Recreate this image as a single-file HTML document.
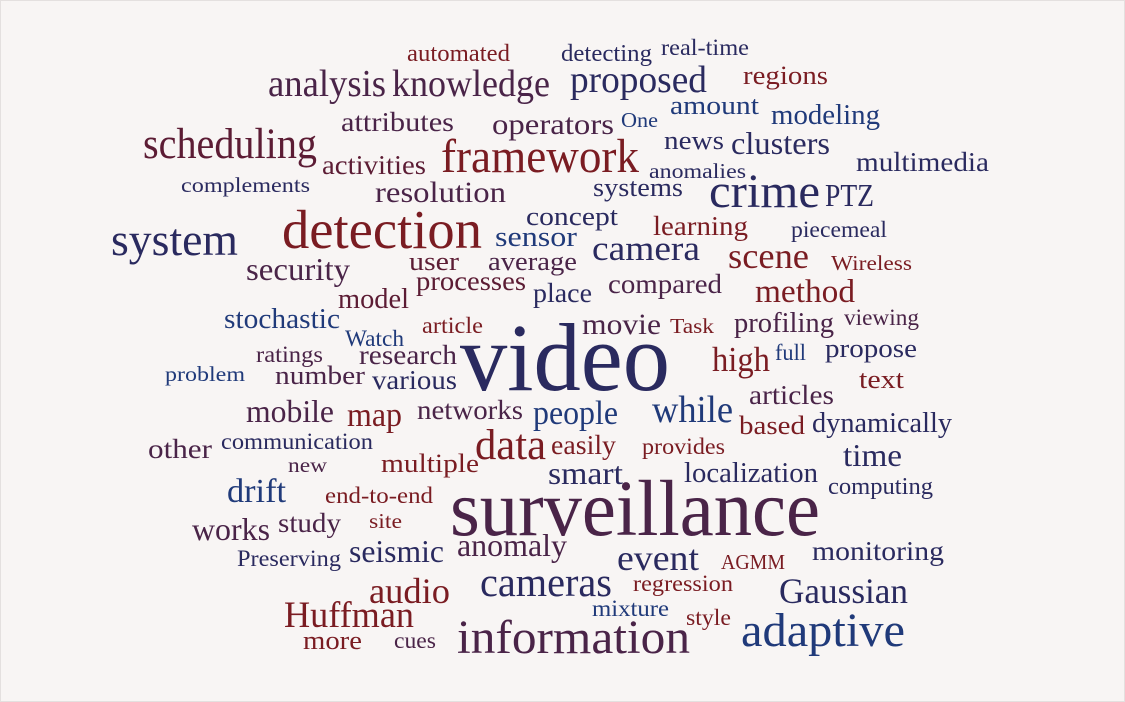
<!DOCTYPE html>
<html><head><meta charset="utf-8"><title>Word cloud</title>
<style>
html,body{margin:0;padding:0;background:#f8f5f4;}
svg{display:block;}
text{font-family:"Liberation Serif","DejaVu Serif",serif;}
</style></head>
<body>
<svg id="cloud" width="1125" height="702" viewBox="0 0 1125 702">
<rect x="0.5" y="0.5" width="1124" height="701" fill="#f8f5f4" stroke="#e4e0df"/>
<g id="words"></g>
</svg>
<script>
const words = ["automated","detecting","real-time","analysis","knowledge","proposed","regions","amount","modeling","attributes","operators","One","news","clusters","scheduling","framework","activities","anomalies","multimedia","complements","resolution","systems","crime","PTZ","concept","learning","piecemeal","system","detection","sensor","camera","scene","Wireless","security","user","average","processes","compared","method","model","place","stochastic","article","movie","Task","profiling","viewing","Watch","video","ratings","research","high","full","propose","problem","number","various","articles","text","mobile","map","networks","people","while","based","dynamically","data","easily","other","communication","provides","time","new","multiple","smart","localization","drift","end-to-end","computing","surveillance","works","study","site","Preserving","seismic","anomaly","event","AGMM","monitoring","audio","cameras","regression","Gaussian","Huffman","mixture","style","information","adaptive","more","cues"];
const weights = [20,20,19,32,32,32,22,22,24,23,25,18,22,26,36,40,23,18,23,18,25,22,40,26,22,23,19,38,46,24,29,30,18,26,22,22,23,23,27,24,23,24,19,25,18,24,19,19,80,19,23,29,19,22,18,22,23,23,22,26,28,23,28,32,22,24,36,23,23,19,19,26,18,22,26,24,28,19,20,66,26,23,18,19,26,26,30,18,23,30,34,19,30,31,19,19,40,40,22,19];
const colorGroup = ["r","n","n","p","p","n","r","b","b","p","p","b","n","n","m","r","m","n","n","n","p","n","n","n","n","r","n","n","r","b","n","r","r","p","m","p","m","p","r","m","n","b","r","p","r","p","p","b","n","p","p","r","b","n","b","p","n","p","r","p","r","p","b","b","r","n","r","r","p","n","r","n","p","r","n","n","b","r","n","p","p","p","r","n","n","p","n","r","n","r","n","r","n","r","b","r","p","b","r","p"];
// layout (left, right, baseline)
const layout = [[407,510,61],[561,652,61],[661,749,55],[268,386,96],[392,550,96],[570,707,92],[743,828,84],[670,759,114],[771,880,124],[341,454,131],[492,614,134],[621,658,127],[664,724,149],[731,830,154],[143,317,158],[441,639,172],[322,426,174],[649,746,178],[856,989,171],[181,310,192],[375,506,202],[593,683,196],[709,820,207],[825,874,206],[526,618,225],[653,748,235],[791,887,237],[111,238,255],[282,482,248],[495,577,246],[592,700,260],[728,809,268],[831,912,270],[246,350,280],[409,459,270],[488,577,270],[416,526,290],[608,722,293],[755,855,302],[338,409,308],[533,592,302],[224,340,328],[422,483,333],[582,661,334],[670,714,333],[734,834,332],[844,919,325],[345,404,346],[460,670,390],[256,323,362],[359,457,364],[712,770,371],[775,806,360],[825,917,357],[165,245,381],[275,365,384],[372,457,389],[749,834,404],[859,904,388],[246,334,422],[347,402,426],[417,523,419],[533,618,424],[652,733,422],[739,805,434],[812,952,432],[475,546,459],[551,616,454],[148,212,458],[221,373,449],[642,725,454],[843,902,466],[288,327,472],[381,479,472],[548,623,484],[684,818,482],[227,286,502],[325,433,503],[828,933,494],[450,820,535],[192,270,540],[278,341,532],[369,402,528],[237,341,566],[349,444,562],[457,567,556],[617,699,570],[721,785,569],[812,944,560],[369,450,603],[480,612,596],[633,733,591],[779,908,603],[284,414,627],[592,669,616],[686,731,625],[457,690,653],[741,905,646],[303,362,649],[394,436,648]];
const palette = {n:"#2a2a5f",r:"#7a1c22",p:"#4a2448",b:"#203a7a",m:"#5c1c34"};
const SCALE = 1.2;
const NS = "http://www.w3.org/2000/svg";
const g = document.getElementById("words");
words.forEach((w,i)=>{
  const [l,r,y] = layout[i];
  const t = document.createElementNS(NS,"text");
  t.setAttribute("x", l);
  t.setAttribute("y", y);
  t.setAttribute("font-size", weights[i]*SCALE);
  t.setAttribute("textLength", r-l);
  t.setAttribute("lengthAdjust","spacingAndGlyphs");
  t.setAttribute("fill", palette[colorGroup[i]]);
  t.textContent = w;
  
  
  g.appendChild(t);
});
</script>
</body></html>
